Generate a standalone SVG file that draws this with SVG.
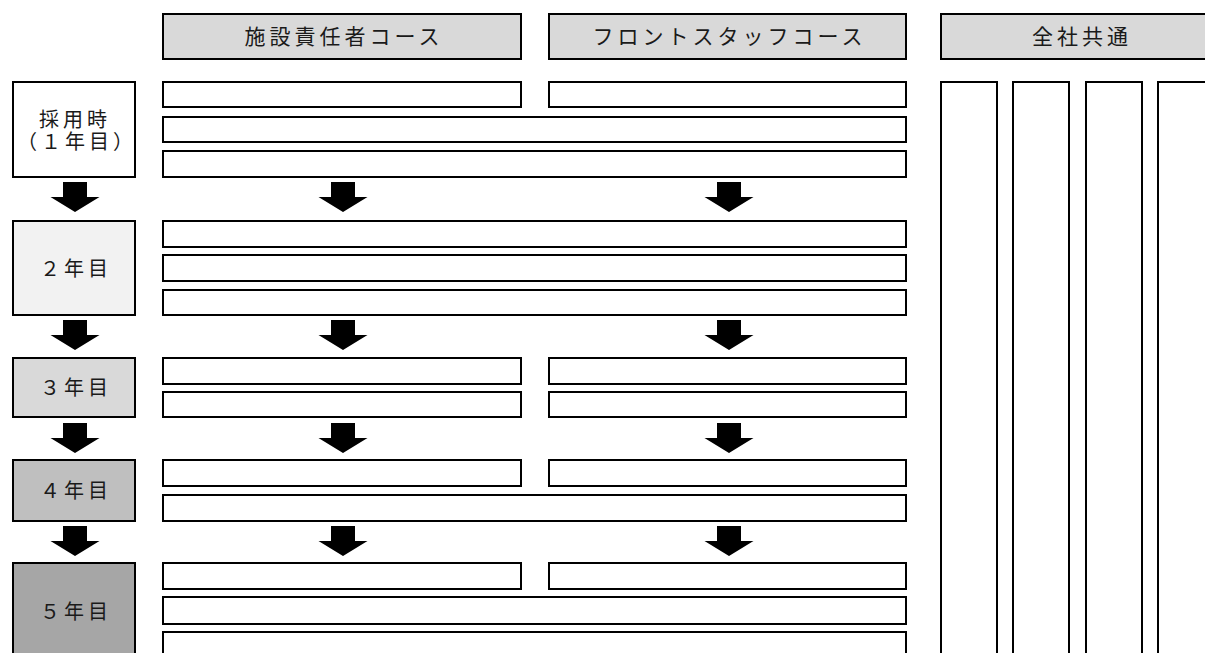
<svg xmlns="http://www.w3.org/2000/svg" xmlns:xlink="http://www.w3.org/1999/xlink" width="1205" height="653" viewBox="0 0 1205 653">
<style>
.box{fill:#fff;stroke:#000;stroke-width:2}
.hdr{fill:#d9d9d9;stroke:#000;stroke-width:2}
.y1{fill:#fff;stroke:#000;stroke-width:2}
.y2{fill:#f2f2f2;stroke:#000;stroke-width:2}
.y3{fill:#d9d9d9;stroke:#000;stroke-width:2}
.y4{fill:#bfbfbf;stroke:#000;stroke-width:2}
.y5{fill:#a6a6a6;stroke:#000;stroke-width:2}
.ht{font-family:"Noto Sans CJK JP","Noto Sans",sans-serif;font-size:21px;letter-spacing:4px;fill:#1a1a1a;text-anchor:middle}
.yt{font-family:"Noto Sans CJK JP","Noto Sans",sans-serif;font-size:20px;letter-spacing:4px;fill:#1a1a1a;text-anchor:middle}
.arr{fill:#000}
</style>
<defs>
<path id="arr" d="M-12 0H12V15H24.5L0 30L-24.5 15H-12Z"/>
</defs>
<rect width="1205" height="653" fill="#fff"/>

<g id="header-shisetsu"><rect class="hdr" x="163" y="14" width="358" height="45"/><text class="ht" x="344" y="44">施設責任者コース</text></g>
<g id="header-front"><rect class="hdr" x="549" y="14" width="357" height="45"/><text class="ht" x="729.5" y="44">フロントスタッフコース</text></g>
<g id="header-zensha"><rect class="hdr" x="941" y="14" width="280" height="45"/><text class="ht" x="1082" y="44">全社共通</text></g>

<g id="year1"><rect class="y1" x="13" y="82" width="122" height="95"/><text class="yt" x="75" y="127">採用時</text><text class="yt" x="77" y="149">（１年目）</text></g>
<g id="year2"><rect class="y2" x="13" y="221" width="122" height="94"/><text class="yt" x="76" y="275.5">２年目</text></g>
<g id="year3"><rect class="y3" x="13" y="358" width="122" height="59"/><text class="yt" x="76" y="395">３年目</text></g>
<g id="year4"><rect class="y4" x="13" y="460" width="122" height="61"/><text class="yt" x="76" y="498">４年目</text></g>
<g id="year5"><rect class="y5" x="13" y="563" width="122" height="100"/><text class="yt" x="76" y="619">５年目</text></g>

<g id="g1-r1a"><rect class="box" x="163" y="82" width="358" height="25"/></g>
<g id="g1-r1b"><rect class="box" x="549" y="82" width="357" height="25"/></g>
<g id="g1-r2"><rect class="box" x="163" y="117" width="743" height="25"/></g>
<g id="g1-r3"><rect class="box" x="163" y="151" width="743" height="26"/></g>

<g id="g2-r1"><rect class="box" x="163" y="221" width="743" height="26"/></g>
<g id="g2-r2"><rect class="box" x="163" y="255" width="743" height="26"/></g>
<g id="g2-r3"><rect class="box" x="163" y="290" width="743" height="25"/></g>

<g id="g3-r1a"><rect class="box" x="163" y="358" width="358" height="26"/></g>
<g id="g3-r1b"><rect class="box" x="549" y="358" width="357" height="26"/></g>
<g id="g3-r2a"><rect class="box" x="163" y="392" width="358" height="25"/></g>
<g id="g3-r2b"><rect class="box" x="549" y="392" width="357" height="25"/></g>

<g id="g4-r1a"><rect class="box" x="163" y="460" width="358" height="26"/></g>
<g id="g4-r1b"><rect class="box" x="549" y="460" width="357" height="26"/></g>
<g id="g4-r2"><rect class="box" x="163" y="495" width="743" height="26"/></g>

<g id="g5-r1a"><rect class="box" x="163" y="563" width="358" height="26"/></g>
<g id="g5-r1b"><rect class="box" x="549" y="563" width="357" height="26"/></g>
<g id="g5-r2"><rect class="box" x="163" y="597" width="743" height="27"/></g>
<g id="g5-r3"><rect class="box" x="163" y="632" width="743" height="40"/></g>

<g id="common-1"><rect class="box" x="941" y="82" width="56" height="590"/></g>
<g id="common-2"><rect class="box" x="1013" y="82" width="56" height="590"/></g>
<g id="common-3"><rect class="box" x="1086" y="82" width="56" height="590"/></g>
<g id="common-4"><rect class="box" x="1158" y="82" width="56" height="590"/></g>

<g id="connectors" class="arr">
<use xlink:href="#arr" x="75" y="182"/>
<use xlink:href="#arr" x="343" y="182"/>
<use xlink:href="#arr" x="729" y="182"/>
<use xlink:href="#arr" x="75" y="320"/>
<use xlink:href="#arr" x="343" y="320"/>
<use xlink:href="#arr" x="729" y="320"/>
<use xlink:href="#arr" x="75" y="423"/>
<use xlink:href="#arr" x="343" y="423"/>
<use xlink:href="#arr" x="729" y="423"/>
<use xlink:href="#arr" x="75" y="526"/>
<use xlink:href="#arr" x="343" y="526"/>
<use xlink:href="#arr" x="729" y="526"/>
</g>
</svg>
